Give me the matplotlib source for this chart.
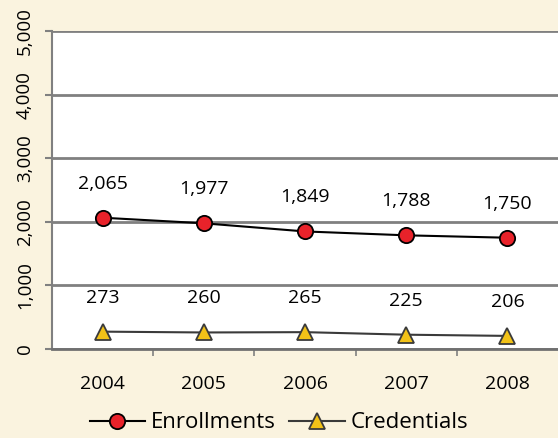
import matplotlib
matplotlib.use("Agg")
import matplotlib.pyplot as plt
from matplotlib.ticker import FuncFormatter

years = ["2004", "2005", "2006", "2007", "2008"]
enrollments = [2065, 1977, 1849, 1788, 1750]
credentials = [273, 260, 265, 225, 206]
yticks = [0, 1000, 2000, 3000, 4000, 5000]

plt.rcParams['font.family'] = ['Open Sans', 'DejaVu Sans']
bg = '#FAF3DF'
fig = plt.figure(figsize=(5.58, 4.38), dpi=100, facecolor=bg)
ax = fig.add_axes([0.0932, 0.2032, 0.9068, 0.7258])
ax.set_facecolor('white')

x = list(range(len(years)))
ax.plot(x, enrollments, color='black', lw=1.5, marker='o', ms=11,
        mfc='#E8222A', mec='black', mew=1.3, label='Enrollments', zorder=3)
ax.plot(x, credentials, color='#3a3a3a', lw=1.5, marker='^', ms=11,
        mfc='#F2C218', mec='#3a3a3a', mew=1.3, label='Credentials', zorder=3)

for xi, v in zip(x, enrollments):
    ax.annotate(f"{v:,}", (xi, v), xytext=(0, 24.5), textcoords='offset points',
                ha='center', va='center', fontsize=14)
for xi, v in zip(x, credentials):
    ax.annotate(f"{v:,}", (xi, v), xytext=(0, 24.5), textcoords='offset points',
                ha='center', va='center', fontsize=14)

ax.set_xlim(-0.5, len(years) - 0.5)
ax.set_ylim(0, 5000)
ax.set_yticks(yticks)
ax.yaxis.set_major_formatter(FuncFormatter(lambda v, p: f"{int(v):,}"))
ax.set_xticks(x)
ax.set_xticklabels(years, fontsize=14)
ax.set_xticks([i + 0.5 for i in x[:-1]], minor=True)
ax.tick_params(axis='x', which='major', length=0, pad=19)
ax.tick_params(axis='x', which='minor', length=5, width=1.2, color='#808080', direction='out')
ax.tick_params(axis='y', length=5, width=1.5, color='#808080', labelsize=13.5, pad=8)
for lab in ax.get_yticklabels():
    lab.set_rotation(90)
    lab.set_va('center')
    lab.set_ha('right')

ax.grid(axis='y', color='#808080', lw=2)
ax.set_axisbelow(True)
for s in ['top', 'right']:
    ax.spines[s].set_visible(False)
ax.spines['left'].set_color('#808080')
ax.spines['left'].set_linewidth(1.5)
ax.spines['bottom'].set_color('#707070')
ax.spines['bottom'].set_linewidth(2)

leg = fig.legend(loc='lower center', bbox_to_anchor=(0.5, -0.035), ncol=2,
                 frameon=False, fontsize=16, handlelength=2.5, handletextpad=0.27,
                 columnspacing=0.6)
fig.savefig('out.png', dpi=100, facecolor=bg)
